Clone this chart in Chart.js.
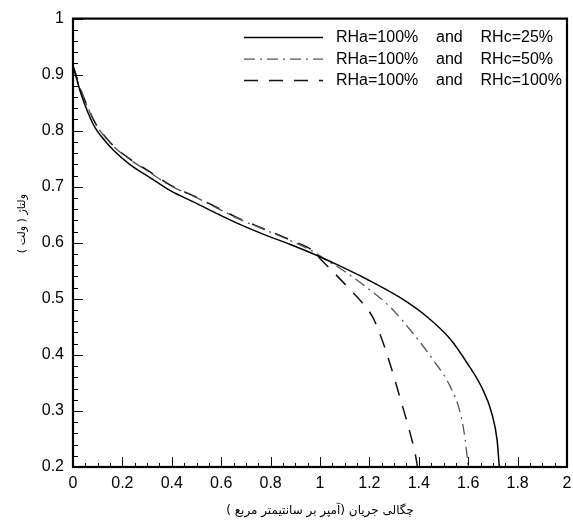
<!DOCTYPE html>
<html>
<head>
<meta charset="utf-8">
<script src="https://cdn.jsdelivr.net/npm/chart.js@4"></script>
<style>
  html, body { margin: 0; padding: 0; background: #fff; }
  #wrap { width: 573px; height: 522px; }
</style>
</head>
<body>
<div id="wrap"><canvas id="polChart" width="573" height="522"></canvas></div>
<script>
// current density (A/cm2) and voltage (V) for each cathode humidity
var rh25X = [0, 0.01, 0.03, 0.06, 0.09, 0.12, 0.164, 0.232, 0.313, 0.394, 0.502, 0.583, 0.664, 0.772, 0.88, 0.974, 1.069, 1.19, 1.325, 1.433, 1.528, 1.595, 1.656, 1.696, 1.717, 1.726];
var rh25Y = [0.915, 0.9, 0.869, 0.833, 0.805, 0.787, 0.765, 0.739, 0.716, 0.693, 0.67, 0.652, 0.635, 0.615, 0.597, 0.58, 0.561, 0.535, 0.502, 0.468, 0.428, 0.386, 0.341, 0.295, 0.248, 0.2];

var rh50X = [0, 0.01, 0.03, 0.06, 0.09, 0.12, 0.164, 0.232, 0.313, 0.394, 0.502, 0.583, 0.664, 0.772, 0.88, 0.974, 1.03, 1.096, 1.19, 1.285, 1.379, 1.46, 1.528, 1.568, 1.588, 1.6];
var rh50Y = [0.915, 0.902, 0.874, 0.841, 0.813, 0.794, 0.772, 0.748, 0.725, 0.702, 0.68, 0.662, 0.644, 0.624, 0.604, 0.584, 0.568, 0.55, 0.52, 0.485, 0.437, 0.39, 0.343, 0.296, 0.248, 0.2];

var rh100X = [0, 0.01, 0.03, 0.06, 0.09, 0.12, 0.164, 0.232, 0.313, 0.394, 0.502, 0.583, 0.664, 0.772, 0.88, 0.974, 1.0, 1.069, 1.123, 1.177, 1.21, 1.237, 1.285, 1.325, 1.359, 1.386, 1.395];
var rh100Y = [0.915, 0.903, 0.875, 0.842, 0.814, 0.795, 0.773, 0.749, 0.726, 0.703, 0.681, 0.663, 0.645, 0.625, 0.605, 0.585, 0.572, 0.541, 0.516, 0.49, 0.47, 0.444, 0.382, 0.322, 0.27, 0.222, 0.2];

var seriesLabels = ['RHa=100%    and    RHc=25%', 'RHa=100%    and    RHc=50%', 'RHa=100%    and    RHc=100%'];

var xTitle = 'چگالی جریان (آمپر بر سانتیمتر مربع )';
// leading no-break spaces lift the rotated title a little above centre
var yTitle = '\u00A0\u00A0\u00A0\u00A0\u00A0\u00A0\u00A0\u00A0\u00A0\u00A0\u00A0ولتاژ ( ولت )';

function toPoints(xs, ys) {
    return xs.map(function (x, i) { return { x: x, y: ys[i] }; });
}

// box frame, inward ticks and the inset legend
var framePlugin = {
    id: 'frame',
    afterDraw: function (chart) {
        var ctx = chart.ctx;
        var a = chart.chartArea;
        var xs = chart.scales.x, ys = chart.scales.y;
        ctx.save();
        ctx.strokeStyle = '#000';
        ctx.lineWidth = 1;
        var i, v, p, len;
        for (i = 0; i <= 40; i++) {
            v = i * 0.05;
            p = Math.round(xs.getPixelForValue(v)) + 0.5;
            len = (i % 4 === 0) ? 10 : 4;
            ctx.beginPath();
            ctx.moveTo(p, a.bottom);
            ctx.lineTo(p, a.bottom - len);
            ctx.stroke();
        }
        for (i = 0; i <= 40; i++) {
            v = 0.2 + i * 0.02;
            p = Math.round(ys.getPixelForValue(v)) + 0.5;
            len = (i % 5 === 0) ? 10 : 5;
            ctx.beginPath();
            ctx.moveTo(a.left, p);
            ctx.lineTo(a.left + len, p);
            ctx.stroke();
        }
        ctx.lineWidth = 2.2;
        ctx.strokeRect(a.left, a.top, a.right - a.left, a.bottom - a.top);

        // legend
        ctx.font = '16px "Liberation Sans", Arial, sans-serif';
        ctx.textBaseline = 'middle';
        ctx.fillStyle = '#000';
        chart.data.datasets.forEach(function (ds, k) {
            var y = a.top + 19 + k * 21.5;
            ctx.beginPath();
            ctx.strokeStyle = ds.borderColor;
            ctx.lineWidth = ds.borderWidth;
            ctx.setLineDash(ds.borderDash || []);
            ctx.moveTo(a.left + 171, y);
            ctx.lineTo(a.left + 250, y);
            ctx.stroke();
            ctx.setLineDash([]);
            ctx.fillText(ds.label, a.left + 263, y);
        });
        ctx.restore();
    }
};

var tickFont = { family: '"Liberation Sans", Arial, sans-serif', size: 16 };

new Chart(document.getElementById('polChart').getContext('2d'), {
    type: 'line',
    data: {
        datasets: [{
            label: seriesLabels[0],
            data: toPoints(rh25X, rh25Y),
            borderColor: '#000',
            borderWidth: 1.5,
            borderDash: []
        }, {
            label: seriesLabels[1],
            data: toPoints(rh50X, rh50Y),
            borderColor: '#555',
            borderWidth: 1.3,
            borderDash: [11, 5, 2, 5]
        }, {
            label: seriesLabels[2],
            data: toPoints(rh100X, rh100Y),
            borderColor: '#111',
            borderWidth: 1.5,
            borderDash: [14, 11]
        }]
    },
    options: {
        responsive: false,
        animation: false,
        cubicInterpolationMode: 'monotone',
        elements: { point: { radius: 0 } },
        layout: { padding: { top: 16, right: 0, bottom: 4, left: 16 } },
        plugins: {
            legend: { display: false },
            tooltip: { enabled: false }
        },
        scales: {
            x: {
                type: 'linear',
                min: 0,
                max: 2,
                grid: { display: false, drawTicks: false },
                border: { display: false },
                ticks: {
                    stepSize: 0.2,
                    color: '#000',
                    font: tickFont,
                    padding: 7,
                    maxRotation: 0,
                    callback: function (v) { return String(+v.toFixed(1)); }
                },
                title: {
                    display: true,
                    text: xTitle,
                    color: '#000',
                    font: { family: '"DejaVu Sans", sans-serif', size: 12 },
                    padding: { top: 2, bottom: 0 }
                },
                afterFit: function (s) {
                    s.height = 51;
                    s.paddingRight = 6;
                }
            },
            y: {
                type: 'linear',
                min: 0.2,
                max: 1,
                grid: { display: false, drawTicks: false },
                border: { display: false },
                ticks: {
                    stepSize: 0.1,
                    color: '#000',
                    font: tickFont,
                    padding: 9,
                    callback: function (v) { return String(+v.toFixed(1)); }
                },
                title: {
                    display: true,
                    text: yTitle,
                    color: '#000',
                    font: { family: '"DejaVu Sans", sans-serif', size: 11 },
                    padding: { top: 0, bottom: 4 }
                },
                afterFit: function (s) { s.width = 57; }
            }
        }
    },
    plugins: [framePlugin]
});
</script>
</body>
</html>
